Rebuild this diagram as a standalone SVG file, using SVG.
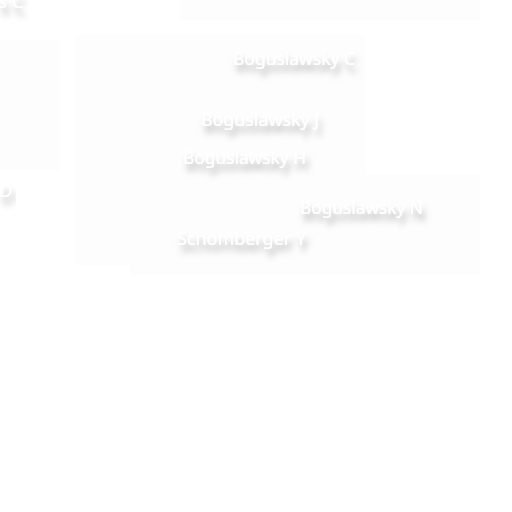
<svg xmlns="http://www.w3.org/2000/svg" width="512" height="512" viewBox="0 0 512 512">
<defs>
<filter id="sh" x="-20%" y="-80%" width="140%" height="300%">
<feDropShadow dx="3" dy="7" stdDeviation="3.4" flood-color="#000" flood-opacity="0.3"/>
</filter>
</defs>
<style>
.lbl{font-family:"Noto Sans","DejaVu Sans",sans-serif;font-size:18.5px;fill:#ffffff;filter:url(#sh)}
.tile{fill:#fdfdfd}
</style>
<rect width="512" height="512" fill="#ffffff"/>
<g id="tiles">
<rect class="tile" x="180" y="0" width="300" height="20"/>
<rect class="tile" x="75" y="35" width="290" height="230"/>
<rect class="tile" x="130" y="175" width="350" height="100"/>
<rect class="tile" x="0" y="40" width="60" height="130"/>
</g>
<g id="label-s-c"><text class="lbl" x="-2" y="8">s C</text></g>
<g id="label-d"><text class="lbl" x="-1" y="197">D</text></g>
<g id="label-boguslawsky-c"><text class="lbl" x="233" y="65" textLength="122" lengthAdjust="spacingAndGlyphs">Boguslawsky C</text></g>
<g id="label-boguslawsky-j"><text class="lbl" x="201" y="126" textLength="118" lengthAdjust="spacingAndGlyphs">Boguslawsky J</text></g>
<g id="label-boguslawsky-h"><text class="lbl" x="183" y="164" textLength="123" lengthAdjust="spacingAndGlyphs">Boguslawsky H</text></g>
<g id="label-boguslawsky-n"><text class="lbl" x="300" y="214" textLength="123" lengthAdjust="spacingAndGlyphs">Boguslawsky N</text></g>
<g id="label-schomberger-y"><text class="lbl" x="177" y="245" textLength="129" lengthAdjust="spacingAndGlyphs">Schomberger Y</text></g>
<g id="connectors"></g>
</svg>
